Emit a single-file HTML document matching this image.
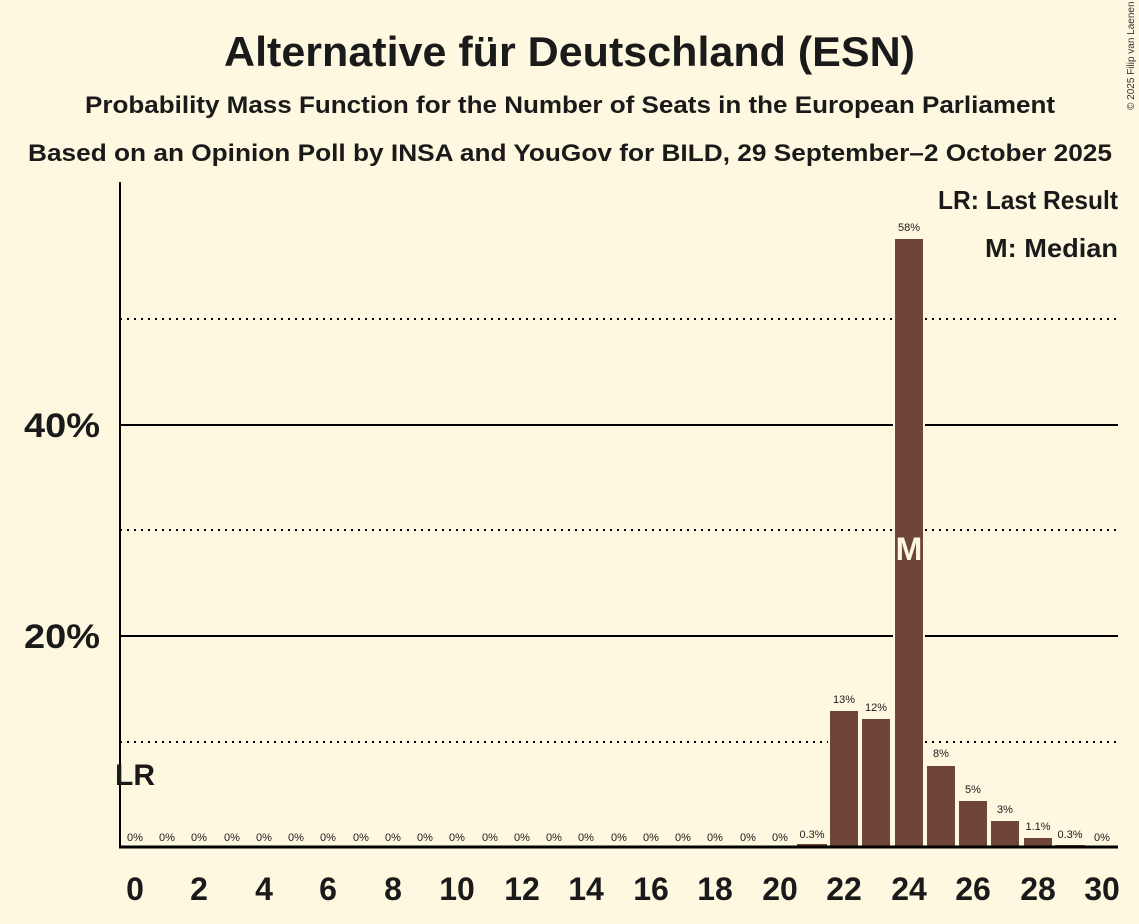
<!DOCTYPE html>
<html><head><meta charset="utf-8"><style>
body{margin:0;background:#fff8e1;}
svg{display:block;font-family:"Liberation Sans",sans-serif;}
</style></head><body>
<svg width="1139" height="924" viewBox="0 0 1139 924" xmlns="http://www.w3.org/2000/svg">
<rect width="1139" height="924" fill="#fff8e1"/>
<text x="224" y="66" textLength="691" lengthAdjust="spacingAndGlyphs" font-size="42" font-weight="bold" fill="#1a1a1a">Alternative für Deutschland (ESN)</text>
<text x="85" y="113" textLength="970" lengthAdjust="spacingAndGlyphs" font-size="24" font-weight="bold" fill="#1a1a1a">Probability Mass Function for the Number of Seats in the European Parliament</text>
<text x="28" y="161" textLength="1084" lengthAdjust="spacingAndGlyphs" font-size="24" font-weight="bold" fill="#1a1a1a">Based on an Opinion Poll by INSA and YouGov for BILD, 29 September–2 October 2025</text>
<text x="1134" y="110" font-size="10" fill="#333" transform="rotate(-90 1134 110)">© 2025 Filip van Laenen</text>
<g stroke="#000" stroke-width="2" stroke-dasharray="2,5">
<line x1="120" x2="1118" y1="742" y2="742"/>
<line x1="120" x2="1118" y1="530" y2="530"/>
<line x1="120" x2="1118" y1="319" y2="319"/>
</g>
<g stroke="#000" stroke-width="2">
<line x1="120" x2="1118" y1="636" y2="636"/>
<line x1="120" x2="1118" y1="425" y2="425"/>
</g>
<text x="24" y="437" textLength="76" lengthAdjust="spacingAndGlyphs" font-size="34" font-weight="bold" fill="#1a1a1a">40%</text>
<text x="24" y="648" textLength="76" lengthAdjust="spacingAndGlyphs" font-size="34" font-weight="bold" fill="#1a1a1a">20%</text>
<g fill="#6f4538" stroke="#fff8e1" stroke-width="2">
<rect x="797" y="844" width="30" height="3" stroke="none"/>
<rect x="829" y="710" width="30" height="137"/>
<rect x="861" y="718" width="30" height="129"/>
<rect x="894" y="238" width="30" height="609"/>
<rect x="926" y="765" width="30" height="82"/>
<rect x="958" y="800" width="30" height="47"/>
<rect x="990" y="820" width="30" height="27"/>
<rect x="1023" y="837" width="30" height="10"/>
<rect x="1055" y="845" width="30" height="2" stroke="none"/>
</g>
<text x="909" y="560" text-anchor="middle" font-size="32" font-weight="bold" fill="#fff8e1">M</text>
<g font-size="11" text-anchor="middle" fill="#1a1a1a">
<text x="135" y="841">0%</text><text x="167" y="841">0%</text><text x="199" y="841">0%</text><text x="232" y="841">0%</text><text x="264" y="841">0%</text><text x="296" y="841">0%</text><text x="328" y="841">0%</text><text x="361" y="841">0%</text><text x="393" y="841">0%</text><text x="425" y="841">0%</text><text x="457" y="841">0%</text><text x="490" y="841">0%</text><text x="522" y="841">0%</text><text x="554" y="841">0%</text><text x="586" y="841">0%</text><text x="619" y="841">0%</text><text x="651" y="841">0%</text><text x="683" y="841">0%</text><text x="715" y="841">0%</text><text x="748" y="841">0%</text><text x="780" y="841">0%</text>
<text x="812" y="838">0.3%</text>
<text x="844" y="703">13%</text>
<text x="876" y="711">12%</text>
<text x="909" y="231">58%</text>
<text x="941" y="757">8%</text>
<text x="973" y="793">5%</text>
<text x="1005" y="813">3%</text>
<text x="1038" y="830">1.1%</text>
<text x="1070" y="838">0.3%</text>
<text x="1102" y="841">0%</text>
</g>
<line x1="120" x2="120" y1="182" y2="848" stroke="#000" stroke-width="2"/>
<line x1="119" x2="1118" y1="847" y2="847" stroke="#000" stroke-width="3"/>
<text x="135" y="785" text-anchor="middle" font-size="30" font-weight="bold" fill="#1a1a1a">LR</text>
<g font-size="32" font-weight="bold" text-anchor="middle" fill="#1a1a1a">
<text x="135" y="900">0</text><text x="199" y="900">2</text><text x="264" y="900">4</text><text x="328" y="900">6</text><text x="393" y="900">8</text><text x="457" y="900">10</text><text x="522" y="900">12</text><text x="586" y="900">14</text><text x="651" y="900">16</text><text x="715" y="900">18</text><text x="780" y="900">20</text><text x="844" y="900">22</text><text x="909" y="900">24</text><text x="973" y="900">26</text><text x="1038" y="900">28</text><text x="1102" y="900">30</text>
</g>
<text x="938" y="209" textLength="180" lengthAdjust="spacingAndGlyphs" font-size="26" font-weight="bold" fill="#1a1a1a">LR: Last Result</text>
<text x="985" y="257" textLength="133" lengthAdjust="spacingAndGlyphs" font-size="26" font-weight="bold" fill="#1a1a1a">M: Median</text>
</svg>
</body></html>
